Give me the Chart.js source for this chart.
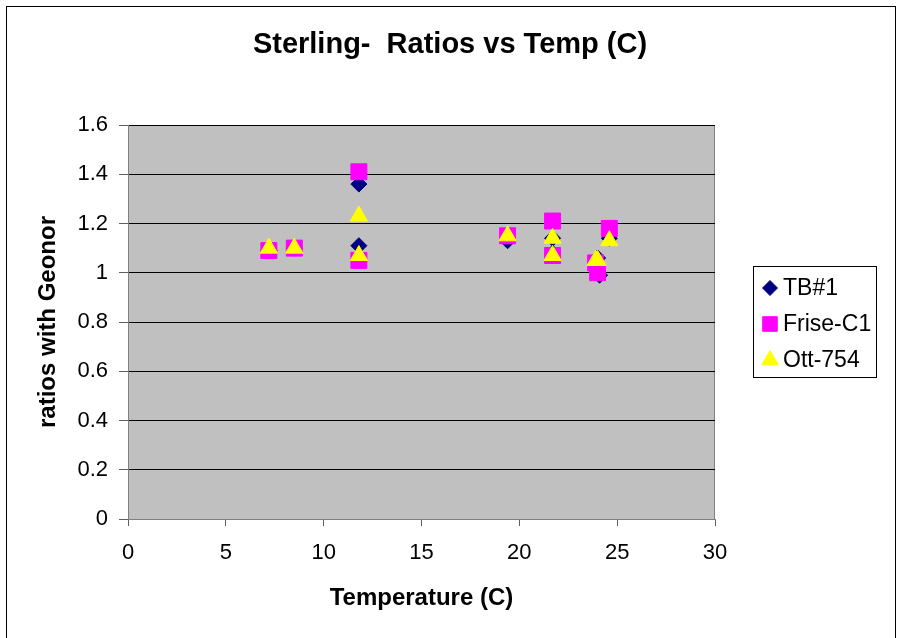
<!DOCTYPE html>
<html>
<head>
<meta charset="utf-8">
<script src="https://cdn.jsdelivr.net/npm/chart.js@4.4.0/dist/chart.umd.min.js"></script>
<style>
  body { margin: 0; background: #fff; }
  #wrap { width: 898px; height: 638px; }
</style>
</head>
<body>
<div id="wrap"><canvas id="scatterChart" width="898" height="638"></canvas></div>
<script>
const FONT = '"Liberation Sans", Arial, sans-serif';

const chartTitle = 'Sterling-  Ratios vs Temp (C)';
const seriesNames = ['TB#1', 'Frise-C1', 'Ott-754'];

const tbTemp = [7.2, 8.5, 11.8, 11.8, 19.4, 21.7, 21.7, 24.0, 24.1, 24.6];
const tbRatio = [1.09, 1.10, 1.36, 1.11, 1.13, 1.14, 1.08, 1.06, 0.99, 1.14];

const friseTemp = [7.2, 8.5, 11.8, 11.8, 19.4, 21.7, 21.7, 23.9, 24.0, 24.6];
const friseRatio = [1.09, 1.10, 1.41, 1.05, 1.15, 1.21, 1.07, 1.04, 1.00, 1.18];

const ottTemp = [7.2, 8.5, 11.8, 11.8, 19.4, 21.7, 21.7, 23.9, 24.0, 24.6];
const ottRatio = [1.10, 1.10, 1.23, 1.07, 1.15, 1.14, 1.07, 1.05, 1.05, 1.13];

const xTickLabels = ['0', '5', '10', '15', '20', '25', '30'];
const yTickLabels = ['0', '0.2', '0.4', '0.6', '0.8', '1', '1.2', '1.4', '1.6'];

function toPoints(xs, ys) {
    return xs.map((x, i) => ({ x: x, y: ys[i] }));
}

function drawShape(ctx, style, r, x, y) {
    if (style === 'rectRot') {
        ctx.moveTo(x - r, y); ctx.lineTo(x, y - r); ctx.lineTo(x + r, y); ctx.lineTo(x, y + r);
    } else if (style === 'rect') {
        const s = r * Math.SQRT1_2;
        ctx.rect(x - s, y - s, 2 * s, 2 * s);
    } else {
        ctx.moveTo(x, y - r);
        ctx.lineTo(x + r * 0.866, y + r / 2);
        ctx.lineTo(x - r * 0.866, y + r / 2);
    }
    ctx.closePath();
}

// gray plot area, outer frame, title centred on the page and the boxed legend
const frame = {
    id: 'frame',
    beforeDraw(chart) {
        const { ctx, chartArea: a } = chart;
        ctx.save();
        ctx.fillStyle = '#C0C0C0';
        ctx.fillRect(a.left, a.top, a.right - a.left, a.bottom - a.top);
        ctx.strokeStyle = '#808080';
        ctx.lineWidth = 1;
        ctx.strokeRect(a.left + 0.5, a.top + 0.5, a.right - a.left - 1, a.bottom - a.top);
        ctx.restore();
    },
    afterDraw(chart) {
        const ctx = chart.ctx;
        ctx.save();
        ctx.strokeStyle = '#000';
        ctx.lineWidth = 1;
        ctx.strokeRect(6.5, 6.5, 889, 700);

        ctx.fillStyle = '#000';
        ctx.font = 'bold 29px ' + FONT;
        ctx.textAlign = 'center';
        ctx.textBaseline = 'middle';
        ctx.fillText(chartTitle, 450, 45);

        ctx.strokeRect(753.5, 266.5, 123, 111);
        const rows = [288, 324, 360];
        chart.data.datasets.forEach((ds, i) => {
            const y = rows[i];
            ctx.fillStyle = ds.backgroundColor;
            ctx.strokeStyle = ds.borderColor;
            ctx.beginPath();
            drawShape(ctx, ds.pointStyle, ds.legendRadius, 770, y);
            ctx.fill();
            ctx.stroke();
            ctx.fillStyle = '#000';
            ctx.font = '23px ' + FONT;
            ctx.textBaseline = 'middle';
            ctx.textAlign = 'left';
            ctx.fillText(ds.label, 783, y + 1);
        });
        ctx.restore();
    }
};

const CHART = document.getElementById('scatterChart');
let scatterChart = new Chart(CHART, {
    type: 'scatter',
    data: {
        datasets: [
            {
                label: seriesNames[0],
                data: toPoints(tbTemp, tbRatio),
                pointStyle: 'rectRot',
                pointRadius: 8,
                legendRadius: 7.5,
                backgroundColor: '#000080',
                borderColor: '#000080',
                borderWidth: 1,
                order: 3
            },
            {
                label: seriesNames[1],
                data: toPoints(friseTemp, friseRatio),
                pointStyle: 'rect',
                pointRadius: 11.3,
                legendRadius: 10.3,
                backgroundColor: '#FF00FF',
                borderColor: '#FF00FF',
                borderWidth: 1,
                order: 2
            },
            {
                label: seriesNames[2],
                data: toPoints(ottTemp, ottRatio),
                pointStyle: 'triangle',
                pointRadius: 10,
                legendRadius: 9.5,
                backgroundColor: '#FFFF00',
                borderColor: '#FFFF00',
                borderWidth: 1,
                order: 1
            }
        ]
    },
    options: {
        responsive: false,
        animation: false,
        layout: { padding: { left: 0, right: 183, top: 125, bottom: 0 } },
        plugins: {
            legend: { display: false },
            tooltip: { enabled: false },
            title: { display: false }
        },
        scales: {
            x: {
                type: 'linear',
                min: 0,
                max: 30,
                afterFit(scale) { scale.height = 119; },
                ticks: {
                    stepSize: 5,
                    color: '#000',
                    padding: 14,
                    font: { family: FONT, size: 22 },
                    callback: (v, i) => xTickLabels[i]
                },
                grid: { drawOnChartArea: false, tickLength: 7, tickColor: '#606060' },
                border: { color: '#808080', width: 1 },
                title: {
                    display: true,
                    text: 'Temperature (C)',
                    color: '#000',
                    font: { family: FONT, size: 24, weight: 'bold', lineHeight: 1.2 },
                    padding: { top: 0, bottom: 25 }
                }
            },
            y: {
                min: 0,
                max: 1.6,
                afterFit(scale) { scale.width = 128; },
                ticks: {
                    stepSize: 0.2,
                    color: '#000',
                    padding: 11,
                    font: { family: FONT, size: 22 },
                    callback: (v, i) => yTickLabels[i]
                },
                grid: {
                    color: (c) => (c.index === 0 ? '#808080' : '#000'),
                    tickLength: 9,
                    tickColor: '#606060'
                },
                border: { color: '#808080', width: 1 },
                title: {
                    display: true,
                    text: 'ratios with Geonor',
                    color: '#000',
                    font: { family: FONT, size: 24, weight: 'bold', lineHeight: 1.2 },
                    padding: { top: 34, bottom: 0 }
                }
            }
        }
    },
    plugins: [frame]
});
</script>
</body>
</html>
